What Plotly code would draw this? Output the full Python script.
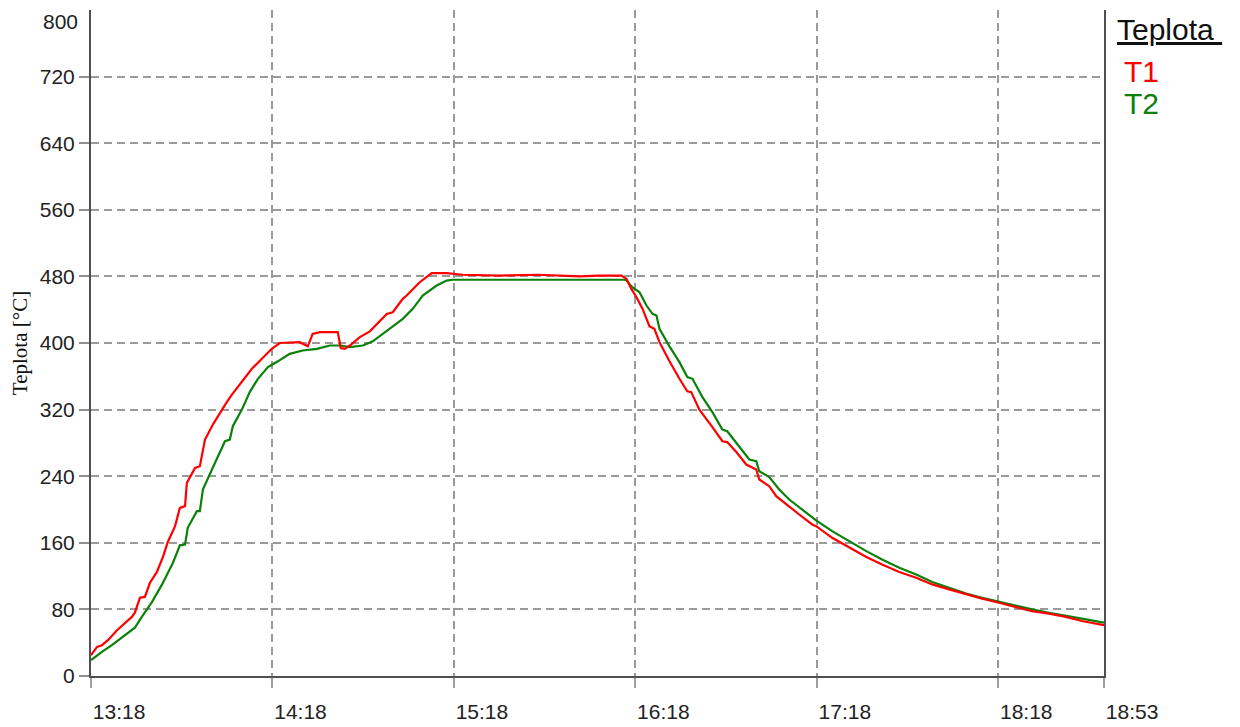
import plotly.graph_objects as go

# minutes after 13:18
t1_min = [0, 2, 3.6, 5.6, 8.6, 11.2, 13.5, 14.5, 16.2, 17.8, 19.5, 21.8, 23.8, 25.4, 27.8,
          29.4, 31.1, 31.7, 34.4, 36, 37.7, 40.3, 43.3, 44.9, 46.6, 49.9, 53.2, 56.5, 59.8,
          62.4, 69, 71.7, 73.3, 75.7, 81.6, 82.6, 83.9, 85.6, 88.9, 92.2, 95.5, 97.8, 99.8,
          103.1, 104.4, 108.7, 112.7, 117.6, 122.9, 135, 148, 161.5, 168, 175.4, 177.1,
          178.7, 180.4, 182.4, 184.7, 186.3, 188, 191.3, 194.6, 197.2, 198.5, 201.2, 205.5,
          208.8, 210.4, 213.4, 216.7, 220, 221, 224.3, 226.6, 229.9, 234.2, 238.5, 239.8,
          245.1, 250.7, 256.4, 261.6, 267.3, 272.9, 278.2, 283.8, 289.4, 294.7, 300.3,
          305.9, 311.2, 316.8, 322.4, 327.7, 335]
t1_val = [25, 35, 37, 43, 55, 64, 71, 76, 94, 95, 112, 125, 143, 161, 180,
          202, 204, 232, 250, 252, 284, 302, 320, 329, 338, 354, 369, 381, 393,
          400, 401, 396, 411, 413, 413, 394, 393, 397, 407, 414, 427, 435, 437,
          453, 457, 473, 484, 484, 482, 481, 482, 480, 481, 481, 477,
          465, 455, 441, 420, 417, 401, 378, 357, 342, 341, 320, 299,
          282, 281, 269, 254, 248, 236, 228, 216, 206, 194, 182, 180,
          166, 155, 143, 134, 125, 118, 110, 104, 98, 93, 88,
          83, 78, 75, 71, 66, 61]

t2_min = [0, 3.6, 6.9, 10.2, 12.2, 14.5, 16.8, 20.2, 23.5, 27.1, 29.4, 31.1, 32, 35, 36,
          37, 40, 42, 44.3, 45.9, 46.9, 49.9, 52.5, 55.2, 58.5, 61.8, 64.1, 65.7, 70, 74.7,
          79, 82.3, 85.6, 89.9, 93.2, 96.5, 99.8, 103.1, 106.4, 109.7, 114.3, 117.6, 119.6,
          176.4, 177.1, 179, 181.4, 183.7, 185.7, 187, 188, 191.3, 194.6, 197.2, 198.9,
          202.2, 205.5, 208.8, 210.4, 214.4, 217.7, 220, 221, 224.3, 227.6, 230.9, 235.2,
          238.5, 239.8, 245.1, 250.7, 256.4, 261.6, 267.3, 272.9, 278.2, 283.8, 289.4,
          294.7, 300.3, 305.9, 311.2, 316.8, 322.4, 327.7, 335]
t2_val = [19, 29, 37, 46, 52, 58, 71, 89, 110, 136, 157, 158, 178, 198, 198,
          224, 248, 264, 282, 284, 300, 320, 341, 357, 371, 378, 383, 387, 391, 393,
          397, 397, 395, 397, 402, 411, 419, 429, 441, 457, 469, 475, 476,
          476, 475, 467, 461, 445, 435, 433, 417, 396, 377, 359, 357,
          335, 317, 296, 294, 275, 260, 258, 246, 239, 224, 212, 200,
          190, 187, 174, 162, 150, 140, 130, 122, 113, 106, 99,
          94, 89, 84, 80, 76, 72, 69, 64]

x_tickvals = [0, 60, 120, 180, 240, 300, 335]
x_ticktext = ["13:18", "14:18", "15:18", "16:18", "17:18", "18:18", "18:53"]
y_tickvals = [0, 80, 160, 240, 320, 400, 480, 560, 640, 720]

fig = go.Figure()
fig.add_trace(go.Scatter(x=t2_min, y=t2_val, mode="lines", name="T2",
                         line=dict(color="#0a820a", width=2.2)))
fig.add_trace(go.Scatter(x=t1_min, y=t1_val, mode="lines", name="T1",
                         line=dict(color="#ff0000", width=2.2)))

tickfont = dict(family="Liberation Sans, Arial, sans-serif", size=21, color="#222")
grid = dict(showgrid=True, gridcolor="#9a9a9a", griddash="8px,5px", gridwidth=1.6)

fig.update_layout(
    width=1240, height=727,
    margin=dict(l=83, r=144, t=2, b=59),
    paper_bgcolor="white", plot_bgcolor="white",
    showlegend=False,
    xaxis=dict(range=[0, 335], tickvals=x_tickvals, ticktext=x_ticktext, automargin=False,
               showline=True, linecolor="#505050", linewidth=2,
               ticks="outside", ticklen=10, tickcolor="#a0a0a0", tickwidth=1.6,
               ticklabelposition="outside right", ticklabelstandoff=16,
               tickfont=tickfont, zeroline=False, **grid),
    yaxis=dict(range=[0, 800], tickvals=y_tickvals, automargin=False,
               showline=True, linecolor="#505050", linewidth=2, mirror=True,
               ticks="outside", ticklen=10, tickcolor="#909090", tickwidth=1.6,
               tickfont=tickfont, zeroline=False, **grid,
               title=dict(text="Teplota [°C]", standoff=9,
                          font=dict(family="Liberation Serif, Times New Roman, serif",
                                    size=21, color="#111"))),
)

fig.add_annotation(xref="paper", yref="y", x=0, y=800, xanchor="right", yanchor="middle",
                   xshift=-11, yshift=-11, text="800", showarrow=False, font=tickfont)

legfont = "Liberation Sans, Arial, sans-serif"
fig.add_annotation(xref="paper", yref="paper", x=1.0109, y=0.97, xanchor="left",
                   yanchor="middle", text="<u>Teplota </u>", showarrow=False,
                   font=dict(family=legfont, size=30, color="#111"))
fig.add_annotation(xref="paper", yref="paper", x=1.0178, y=0.908, xanchor="left",
                   yanchor="middle", text="T1", showarrow=False,
                   font=dict(family=legfont, size=30, color="#ff0000"))
fig.add_annotation(xref="paper", yref="paper", x=1.0178, y=0.86, xanchor="left",
                   yanchor="middle", text="T2", showarrow=False,
                   font=dict(family=legfont, size=30, color="#0a820a"))

fig.write_html("out.html")
